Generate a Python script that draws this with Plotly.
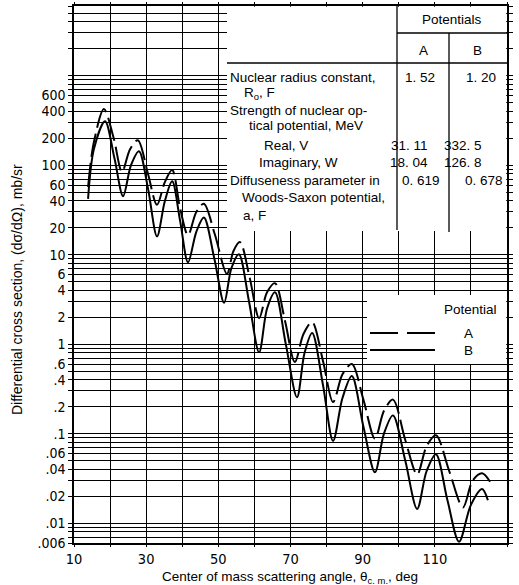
import plotly.graph_objects as go
import math

# ---- data ----
angle_A = [13.9, 15.5, 18.3, 21.0, 23.3, 25.5, 27.7, 30.5, 33.0, 35.2, 37.2, 39.4, 41.6, 43.9, 46.0,
           49.0, 52.4, 54.2, 56.0, 58.7, 61.3, 63.5, 65.7, 68.5, 71.2, 73.6, 76.0, 79.0, 81.8, 84.4,
           87.0, 90.2, 93.4, 95.9, 98.4, 101.8, 105.1, 107.7, 110.3, 114.0, 117.8, 120.5, 123.1, 125.3]
sigma_A = [57, 180, 423, 200, 84, 150, 190, 80, 36, 65, 88, 33, 16.5, 30, 37,
           17, 6.1, 11, 13.8, 5.5, 1.95, 3.8, 4.8, 1.8, 0.63, 1.3, 1.76, 0.65, 0.225, 0.46,
           0.6, 0.24, 0.088, 0.18, 0.24, 0.085, 0.035, 0.072, 0.096, 0.038, 0.015, 0.03, 0.036, 0.029]

angle_B = [13.9, 15.5, 18.6, 21.2, 23.6, 25.8, 28.0, 30.5, 33.0, 35.2, 37.2, 39.4, 41.6, 43.9, 46.0,
           48.9, 51.6, 53.6, 55.7, 58.5, 61.3, 63.5, 65.7, 68.7, 71.8, 73.9, 76.0, 79.0, 81.8, 84.4,
           87.0, 90.2, 93.4, 95.9, 98.4, 101.8, 105.1, 107.7, 110.3, 113.5, 116.7, 120.0, 123.1, 124.7]
sigma_B = [42, 150, 310, 120, 45, 100, 143, 55, 16, 40, 66, 24, 8.2, 18, 26,
           9, 2.9, 7, 10.1, 3, 0.81, 2.5, 3.8, 1.0, 0.255, 0.8, 1.33, 0.35, 0.083, 0.25,
           0.44, 0.12, 0.037, 0.1, 0.16, 0.05, 0.0144, 0.038, 0.059, 0.018, 0.0062, 0.016, 0.024, 0.018]

x_tick_vals = [10, 20, 30, 40, 50, 60, 70, 80, 90, 100, 110, 120, 130]
x_tick_text = ["10", "", "30", "", "50", "", "70", "", "90", "", "110", "", "130"]

y_labels = {0.006: ".006", 0.01: ".01", 0.02: ".02", 0.04: ".04", 0.06: ".06",
            0.1: ".1", 0.2: ".2", 0.4: ".4", 0.6: ".6", 1: "1", 2: "2", 4: "4", 6: "6",
            10: "10", 20: "20", 40: "40", 60: "60", 100: "100", 200: "200", 400: "400", 600: "600"}

table_left = ["Nuclear radius constant,", "R<sub>o</sub>, F", "Strength of nuclear op-",
              "tical potential, MeV", "Real, V", "Imaginary, W",
              "Diffuseness parameter in", "Woods-Saxon potential,", "a, F"]
values_A = ["1. 52", "31. 11", "18. 04", "0. 619"]
values_B = ["1. 20", "332. 5", "126. 8", "0. 678"]

# ---- grid tick values (1..9 per decade) ----
y_tick_vals, y_tick_text = [], []
for e in range(-3, 4):
    for m in range(1, 10):
        v = round(m * 10 ** e, 6)
        if 0.0059 < v < 6001:
            y_tick_vals.append(v)
            y_tick_text.append(y_labels.get(v, ""))

W, H = 519, 585
L, R, T, B = 74, 12, 6, 42
PW, PH = W - L - R, H - T - B


def px(p):
    return (p - L) / PW


def py(p):
    return (H - B - p) / PH


FONT = "Liberation Sans Narrow, DejaVu Sans Condensed, Arial Narrow, sans-serif"
TFONT = "Liberation Sans, DejaVu Sans, sans-serif"

fig = go.Figure()
fig.add_trace(go.Scatter(x=angle_A, y=sigma_A, mode="lines", name="A",
                         line=dict(color="black", width=2, dash="24px,6px", shape="spline", smoothing=0.9)))
fig.add_trace(go.Scatter(x=angle_B, y=sigma_B, mode="lines", name="B",
                         line=dict(color="black", width=2, shape="spline", smoothing=0.9)))

shapes = []
# white table region and legend region
shapes.append(dict(type="rect", xref="paper", yref="paper", x0=px(227), x1=px(506.2), y0=py(231), y1=py(6.8),
                   fillcolor="white", line=dict(width=0), layer="above"))
shapes.append(dict(type="rect", xref="paper", yref="paper", x0=px(367), x1=px(506.2), y0=py(364), y1=py(295),
                   fillcolor="white", line=dict(width=0), layer="above"))
lw = dict(color="black", width=1.3)
shapes += [
    dict(type="line", xref="paper", yref="paper", x0=px(227), x1=1, y0=py(63), y1=py(63), line=lw, layer="above"),
    dict(type="line", xref="paper", yref="paper", x0=px(397), x1=1, y0=py(33), y1=py(33), line=lw, layer="above"),
    dict(type="line", xref="paper", yref="paper", x0=px(397), x1=px(397), y0=py(230), y1=1, line=lw, layer="above"),
    dict(type="line", xref="paper", yref="paper", x0=px(449), x1=px(449), y0=py(232), y1=py(33), line=lw, layer="above"),
    # legend samples
    dict(type="line", xref="paper", yref="paper", x0=px(370), x1=px(435), y0=py(333), y1=py(333),
         line=dict(color="black", width=2, dash="28px,9px"), layer="above"),
    dict(type="line", xref="paper", yref="paper", x0=px(370), x1=px(435), y0=py(350), y1=py(350),
         line=dict(color="black", width=2), layer="above"),
]

ann = []


def txt(x, y, s, anchor="left", size=13.5, font=TFONT):
    ann.append(dict(xref="paper", yref="paper", x=px(x), y=py(y), text=s, showarrow=False,
                    xanchor=anchor, yanchor="middle", font=dict(family=font, size=size, color="black")))


left_pos = [(228, 77), (242, 93), (228, 110), (247, 126), (262, 145), (257, 162),
            (228, 180), (240, 198), (241, 215)]
for (x, y), s in zip(left_pos, table_left):
    txt(x, y, s)

txt(452, 20, "Potentials", "center")
txt(423, 50, "A", "center")
txt(477, 50, "B", "center")
val_y = [77, 145, 162, 180]
val_xA = [420, 409, 409, 421]
val_xB = [481, 463, 463, 484]
for xa, xb, y, a, b in zip(val_xA, val_xB, val_y, values_A, values_B):
    txt(xa, y, a, "center")
    txt(xb, y, b, "center")

txt(470, 309, "Potential", "center")
txt(468, 333, "A", "center")
txt(468, 350, "B", "center")

# axis titles
ann.append(dict(xref="paper", yref="paper", x=px(290), y=py(577),
                text="Center of mass scattering angle, θ<sub>c. m.</sub>, deg", showarrow=False,
                xanchor="center", yanchor="middle", font=dict(family=TFONT, size=13.5, color="black")))
ann.append(dict(xref="paper", yref="paper", x=px(17), y=py(290),
                text="Differential cross section, (dσ/dΩ), mb/sr", showarrow=False, textangle=-90,
                xanchor="center", yanchor="middle", font=dict(family=TFONT, size=14, color="black")))

fig.update_layout(
    width=W, height=H, margin=dict(l=L, r=R, t=T, b=B, autoexpand=False),
    paper_bgcolor="white", plot_bgcolor="white", showlegend=False,
    shapes=shapes, annotations=ann,
    xaxis=dict(range=[10, 130], tickvals=x_tick_vals, ticktext=x_tick_text, automargin=False,
               showgrid=True, gridcolor="black", gridwidth=1, zeroline=False,
               showline=True, linecolor="black", linewidth=1.5, mirror="ticks",
               ticks="outside", ticklen=2, tickcolor="black",
               tickfont=dict(family=FONT, size=14.5, color="black")),
    yaxis=dict(type="log", range=[math.log10(0.006), math.log10(6000)], automargin=False,
               tickvals=y_tick_vals, ticktext=y_tick_text,
               showgrid=True, gridcolor="black", gridwidth=1, zeroline=False,
               showline=True, linecolor="black", linewidth=1.5, mirror="ticks",
               ticks="outside", ticklen=4, tickcolor="black",
               tickfont=dict(family=FONT, size=14, color="black")),
)

fig.write_html("out.html", config={"displayModeBar": False},
               post_script="document.body.style.margin='0';document.body.style.overflow='hidden';")
